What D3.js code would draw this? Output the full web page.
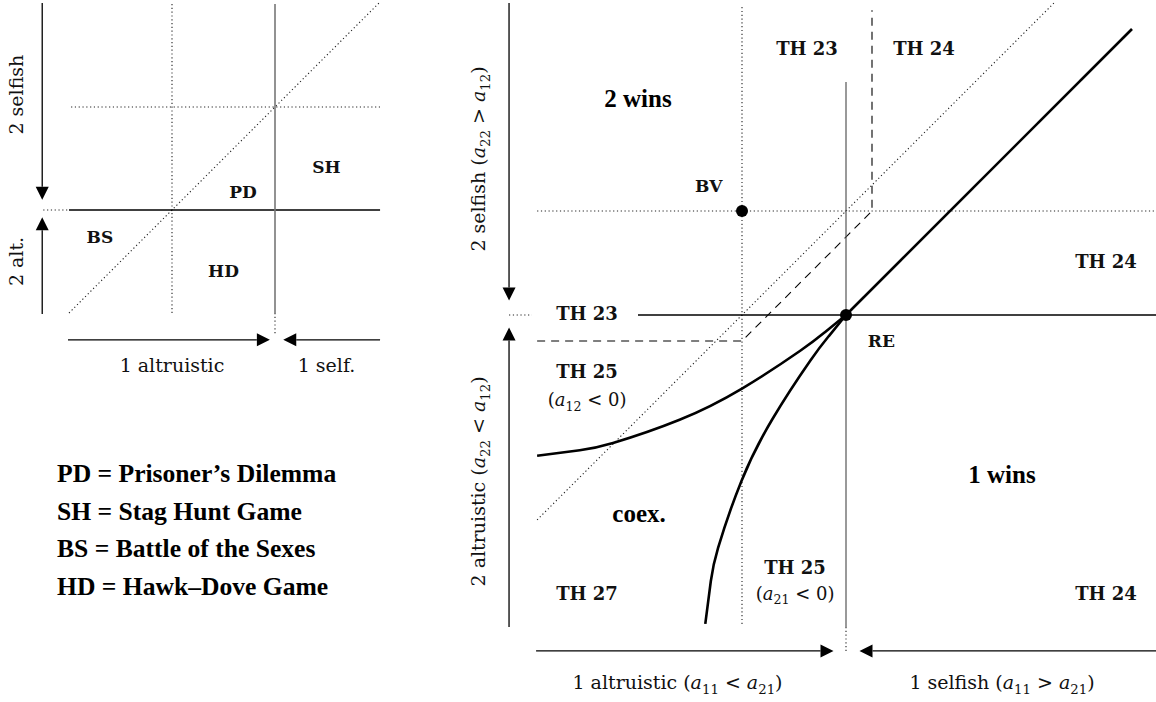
<!DOCTYPE html>
<html>
<head>
<meta charset="utf-8">
<script src="https://cdn.jsdelivr.net/npm/d3@7"></script>
<style>
  body { margin: 0; background: #fff; }
  svg { display: block; }
</style>
</head>
<body>
<svg id="chart" width="1156" height="702"></svg>
<script>
// ---------- Data: small overview panel (payoff-difference units) ----------
const leftGames = ["PD", "SH", "BS", "HD"];
const leftGameAt = [[-0.31, 0.12], [0.5, 0.36], [-1.7, -0.32], [-0.5, -0.65]];
const leftSolidH = [[-2, 0], [1.02, 0]];
const leftSolidV = [[0, 2.0], [0, -1.0]];
const leftDotted = [
  [[-2.25, 0], [-2, 0]],
  [[-1.98, 1], [1.02, 1]],
  [[-1, 2.0], [-1, -1.0]],
  [[-2, -1], [1.01, 2.01]],
  [[0, -1.0], [0, -1.22]]
];
const leftArrows = [
  [[-2.26, 2.01], [-2.26, 0.1]],
  [[-2.26, -1.01], [-2.26, -0.07]],
  [[-2.01, -1.26], [-0.05, -1.26]],
  [[1.02, -1.26], [0.08, -1.26]]
];
const leftAxisText = ["2 selfish", "2 alt.", "1 altruistic", "1 self."];

// ---------- Data: main panel ----------
const equilibria = [
  { name: "RE", at: [0, 0] },
  { name: "BV", at: [-1, 1] }
];
// boundary a12 = 0 (upper curve) and a21 = 0 (lower curve)
const boundaryA12 = [[-2.97, -1.353], [-2.56, -1.30], [-2.24, -1.23], [-1.6, -1.007], [-1.0, -0.707], [-0.44, -0.344], [-0.2, -0.163], [0, 0]];
const boundaryA21 = [[-1.353, -2.97], [-1.30, -2.56], [-1.23, -2.24], [-1.007, -1.6], [-0.707, -1.0], [-0.344, -0.44], [-0.163, -0.2], [0, 0]];
const selfishDiagonal = [[0, 0], [2.75, 2.75]];
const mainSolidV = [[0, 2.24], [0, -3.0]];
const mainSolidH = [[-2.0, 0], [3.0, 0]];
const mainDotted = [
  [[-3.24, 0], [-3.02, 0]],
  [[0, -3.0], [0, -3.25]],
  [[-2.97, 1], [3.0, 1]],
  [[-1, -2.97], [-1, 2.98]],
  [[-2.97, -1.97], [2.01, 3.01]]
];
const mainDashed = [[-2.97, -0.25], [-1, -0.25], [0.25, 1], [0.25, 2.93]];
const mainArrows = [
  [[-3.24, 3.0], [-3.24, 0.14]],
  [[-3.24, -3.0], [-3.24, -0.12]],
  [[-2.98, -3.23], [-0.12, -3.23]],
  [[3.0, -3.23], [0.13, -3.23]]
];
const theorems = ["TH 23", "TH 24", "TH 24", "TH 23", "TH 25", "TH 25", "TH 27", "TH 24"];
const theoremAt = [[-0.375, 2.5], [0.75, 2.5], [2.5, 0.45], [-2.49, -0.05], [-2.49, -0.61], [-0.49, -2.49], [-2.49, -2.74], [2.5, -2.74]];
const conditions = [
  { at: [-2.49, -0.875], parts: [["(", ""], ["a", "i"], ["12", "s"], [" < 0)", ""]] },
  { at: [-0.49, -2.74], parts: [["(", ""], ["a", "i"], ["21", "s"], [" < 0)", ""]] }
];
const outcomes = ["2 wins", "1 wins", "coex."];
const outcomeAt = [[-2.0, 2.0], [1.5, -1.62], [-1.99, -1.99]];
const mainAxisText = [
  { at: [-3.47, 1.5], rot: true, parts: [["2 selfish (", ""], ["a", "i"], ["22", "s"], [" > ", ""], ["a", "i"], ["12", "s"], [")", ""]] },
  { at: [-3.47, -1.6], rot: true, parts: [["2 altruistic (", ""], ["a", "i"], ["22", "s"], [" < ", ""], ["a", "i"], ["12", "s"], [")", ""]] },
  { at: [-1.62, -3.6], rot: false, parts: [["1 altruistic (", ""], ["a", "i"], ["11", "s"], [" < ", ""], ["a", "i"], ["21", "s"], [")", ""]] },
  { at: [1.5, -3.6], rot: false, parts: [["1 selfish (", ""], ["a", "i"], ["11", "s"], [" > ", ""], ["a", "i"], ["21", "s"], [")", ""]] }
];
const legendEntries = [
  "PD = Prisoner\u2019s Dilemma",
  "SH = Stag Hunt Game",
  "BS = Battle of the Sexes",
  "HD = Hawk\u2013Dove Game"
];

// ---------- Scales ----------
const lx = d3.scaleLinear().domain([-2, 1]).range([69, 378]);
const ly = d3.scaleLinear().domain([-1, 2]).range([313, 4]);
const rx = d3.scaleLinear().domain([-3, 3]).range([534, 1158]);
const ry = d3.scaleLinear().domain([-3, 3]).range([627, 3]);

const svg = d3.select("#chart");
const LABEL_FONT = "'DejaVu Serif', serif";
const TIMES = "'Liberation Serif', 'Times New Roman', serif";
const DOT = "1.2 2.6";

function lineGen(sx, sy) {
  return d3.line().x(d => sx(d[0])).y(d => sy(d[1]));
}

function drawArrow(g, sx, sy, seg) {
  const [a, b] = seg;
  const x1 = sx(a[0]), y1 = sy(a[1]), x2 = sx(b[0]), y2 = sy(b[1]);
  const ang = Math.atan2(y2 - y1, x2 - x1);
  const len = 13, half = 6.5;
  const bx = x2 - len * Math.cos(ang), by = y2 - len * Math.sin(ang);
  g.append("line")
    .attr("x1", x1).attr("y1", y1).attr("x2", bx).attr("y2", by)
    .attr("stroke", "#000").attr("stroke-width", 1.3);
  const px = -Math.sin(ang) * half, py = Math.cos(ang) * half;
  g.append("path")
    .attr("d", `M${x2},${y2}L${bx + px},${by + py}L${bx - px},${by - py}Z`)
    .attr("fill", "#000");
}

function mathText(g, x, y, parts, size, rotate) {
  const t = g.append("text")
    .attr("text-anchor", "middle")
    .attr("font-family", LABEL_FONT)
    .attr("font-size", size)
    .attr("fill", "#111");
  if (rotate) t.attr("transform", `translate(${x},${y}) rotate(-90)`);
  else t.attr("x", x).attr("y", y);
  let shifted = false;
  parts.forEach(([s, kind]) => {
    const sp = t.append("tspan").text(s);
    if (kind === "i") sp.attr("font-style", "italic");
    if (kind === "s") {
      sp.attr("font-size", size * 0.7).attr("dy", size * 0.25);
      shifted = true;
    } else if (shifted) {
      sp.attr("dy", -size * 0.25);
      shifted = false;
    }
  });
  return t;
}

// ---------- Small overview panel ----------
const left = svg.append("g");
const lline = lineGen(lx, ly);

left.selectAll("path.dot").data(leftDotted).join("path")
  .attr("d", lline).attr("fill", "none")
  .attr("stroke", "#222").attr("stroke-width", 1.1).attr("stroke-dasharray", DOT);

left.append("path").attr("d", lline(leftSolidH))
  .attr("stroke", "#000").attr("stroke-width", 1.3).attr("fill", "none");
left.append("path").attr("d", lline(leftSolidV))
  .attr("stroke", "#777").attr("stroke-width", 1.6).attr("fill", "none");

leftArrows.forEach(seg => drawArrow(left, lx, ly, seg));

left.selectAll("text.game").data(leftGames).join("text")
  .attr("x", (d, i) => lx(leftGameAt[i][0]))
  .attr("y", (d, i) => ly(leftGameAt[i][1]))
  .attr("text-anchor", "middle")
  .attr("font-family", LABEL_FONT).attr("font-weight", "bold")
  .attr("font-size", 17).attr("fill", "#111")
  .text(d => d);

mathText(left, lx(-2.45), ly(1.12), [[leftAxisText[0], ""]], 19, true);
mathText(left, lx(-2.45), ly(-0.5), [[leftAxisText[1], ""]], 19, true);
mathText(left, lx(-1), ly(-1.57), [[leftAxisText[2], ""]], 19, false);
mathText(left, lx(0.5), ly(-1.57), [[leftAxisText[3], ""]], 19, false);

// legend
svg.append("g").selectAll("text").data(legendEntries).join("text")
  .attr("x", 57)
  .attr("y", (d, i) => 482 + i * 37.5)
  .attr("font-family", TIMES).attr("font-weight", "bold")
  .attr("font-size", 25.6).attr("fill", "#000")
  .text(d => d);

// ---------- Main panel ----------
const main = svg.append("g");
const rline = lineGen(rx, ry);

main.selectAll("path.dot").data(mainDotted).join("path")
  .attr("d", rline).attr("fill", "none")
  .attr("stroke", "#222").attr("stroke-width", 1.1).attr("stroke-dasharray", DOT);

main.append("path").attr("d", rline(mainDashed))
  .attr("fill", "none").attr("stroke", "#000")
  .attr("stroke-width", 1.1).attr("stroke-dasharray", "8 6");

main.append("path").attr("d", rline(mainSolidV))
  .attr("stroke", "#555").attr("stroke-width", 1.2).attr("fill", "none");
main.append("path").attr("d", rline(mainSolidH))
  .attr("stroke", "#000").attr("stroke-width", 1.3).attr("fill", "none");

const curve = d3.line().x(d => rx(d[0])).y(d => ry(d[1])).curve(d3.curveNatural);
[boundaryA12, boundaryA21].forEach(b => {
  main.append("path").attr("d", curve(b))
    .attr("fill", "none").attr("stroke", "#000").attr("stroke-width", 2.6);
});
main.append("path").attr("d", rline(selfishDiagonal))
  .attr("fill", "none").attr("stroke", "#000").attr("stroke-width", 2.6);

mainArrows.forEach(seg => drawArrow(main, rx, ry, seg));

main.selectAll("circle.eq").data(equilibria).join("circle")
  .attr("cx", d => rx(d.at[0])).attr("cy", d => ry(d.at[1]))
  .attr("r", 6).attr("fill", "#000");

main.append("text")
  .attr("x", rx(-1.32)).attr("y", ry(1.18))
  .attr("text-anchor", "middle")
  .attr("font-family", LABEL_FONT).attr("font-weight", "bold")
  .attr("font-size", 17).attr("fill", "#111").text(equilibria[1].name);
main.append("text")
  .attr("x", rx(0.34)).attr("y", ry(-0.31))
  .attr("text-anchor", "middle")
  .attr("font-family", LABEL_FONT).attr("font-weight", "bold")
  .attr("font-size", 17).attr("fill", "#111").text(equilibria[0].name);

main.selectAll("text.th").data(theorems).join("text")
  .attr("x", (d, i) => rx(theoremAt[i][0]))
  .attr("y", (d, i) => ry(theoremAt[i][1]))
  .attr("text-anchor", "middle")
  .attr("font-family", LABEL_FONT).attr("font-weight", "bold")
  .attr("font-size", 18).attr("fill", "#111")
  .text(d => d);

conditions.forEach(c => mathText(main, rx(c.at[0]), ry(c.at[1]), c.parts, 18, false));

main.selectAll("text.out").data(outcomes).join("text")
  .attr("x", (d, i) => rx(outcomeAt[i][0]))
  .attr("y", (d, i) => ry(outcomeAt[i][1]))
  .attr("text-anchor", "middle")
  .attr("font-family", TIMES).attr("font-weight", "bold")
  .attr("font-size", 25).attr("fill", "#000")
  .text(d => d);

mainAxisText.forEach(a => mathText(main, rx(a.at[0]), ry(a.at[1]), a.parts, 19, a.rot));
</script>
</body>
</html>
